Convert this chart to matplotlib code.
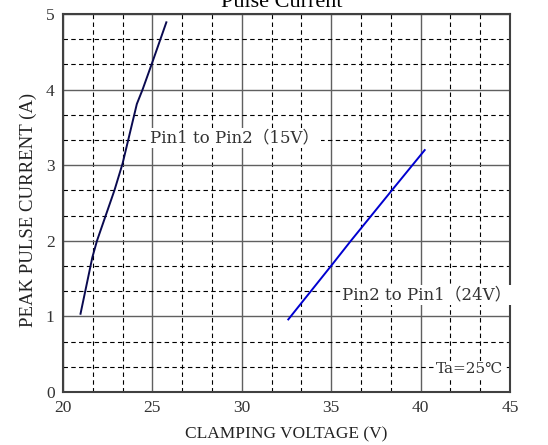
import numpy as np
import matplotlib; matplotlib.use("Agg")
import matplotlib.pyplot as plt
from matplotlib.ticker import MultipleLocator

plt.rcParams["font.family"] = ["Liberation Serif", "Noto Sans CJK SC", "DejaVu Sans"]
NOTE_FONT = ["DejaVu Serif", "Noto Sans CJK SC"]

# Pin1 -> Pin2 (15V) curve
v15 = [20.98, 21.64, 21.9, 22.88, 23.33, 24.13, 24.45, 24.98, 25.78]
i15 = [1.035, 1.78, 2.0, 2.67, 3.02, 3.81, 4.0, 4.35, 4.89]
# Pin2 -> Pin1 (24V) curve
v24 = [32.6, 35.0, 36.1, 38.4, 40.23]
i24 = [0.96, 1.67, 2.0, 2.67, 3.2]

fig = plt.figure(figsize=(5.48, 4.45), dpi=100)
ax = fig.add_axes([63/548, 53/445, 447/548, 378/445])

ax.set_xlim(20, 45); ax.set_ylim(0, 5)
ax.xaxis.set_major_locator(MultipleLocator(5))
ax.yaxis.set_major_locator(MultipleLocator(1))
ax.xaxis.set_minor_locator(MultipleLocator(5/3))
ax.yaxis.set_minor_locator(MultipleLocator(1/3))
ax.grid(which="major", color="#606060", lw=1.0, ls="-", zorder=1)
ax.grid(which="minor", color="black", lw=0.8, ls=(0, (4, 3)), zorder=1)
ax.tick_params(which="both", length=0, labelsize=12.5, pad=6, labelcolor="#333")
for s in ax.spines.values():
    s.set_color("#404040"); s.set_linewidth(1.5)

ax.plot(v15, i15, color="#0a0a50", lw=1.4, zorder=3)
ax.plot(v24, i24, color="#0000d0", lw=1.4, zorder=3)

bb = dict(fc="white", ec="none", pad=1)
ax.text(24.87, 3.36, "Pin1 to Pin2（15V）", fontsize=12, family=NOTE_FONT, color="#333",
        va="center", ha="left", bbox=bb, zorder=4)
ax.text(35.6, 1.28, "Pin2 to Pin1（24V）", fontsize=12, family=NOTE_FONT, color="#333",
        va="center", ha="left", bbox=bb, zorder=4)
ax.text(40.86, 0.3, "Ta=25℃", fontsize=11, family=NOTE_FONT, color="#333",
        va="center", ha="left", bbox=bb, zorder=4)

ax.set_xlabel("CLAMPING VOLTAGE (V)", fontsize=12.5, labelpad=7, color="#222")
ax.set_ylabel("PEAK PULSE CURRENT (A)", fontsize=13.5, color="#222")
ax.yaxis.set_label_coords(-26/447, (392 - 210) / 378)
fig.text(0.515, 1 - 7/445, "Pulse Current", fontsize=16, ha="center", va="baseline")

fig.savefig("out.png", dpi=100)
